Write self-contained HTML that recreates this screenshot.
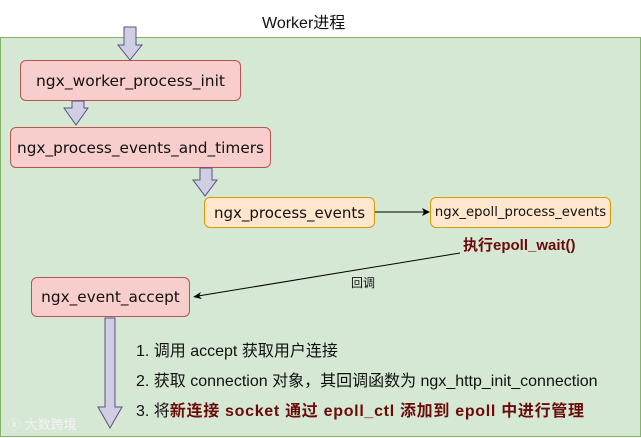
<!DOCTYPE html>
<html><head><meta charset="utf-8"><style>
body{margin:0;width:641px;height:438px;background:#fff;overflow:hidden;position:relative;font-family:"Liberation Sans","Noto Sans CJK SC",sans-serif}
.g{position:absolute;left:0;top:37px;width:639px;height:398px;background:#d5e8d4;border:1px solid #82b366}
.b{position:absolute;box-sizing:border-box;display:flex;align-items:center;justify-content:center;border-radius:6px;font-family:"Comic Sans MS","DejaVu Sans","Liberation Sans",sans-serif;color:#111;white-space:nowrap}
.p{background:#f8cecc;border:1px solid #b85450}
.y{background:#ffe6cc;border:1px solid #d79b00}
.t{position:absolute;white-space:nowrap;font-size:16px;color:#111}
svg{position:absolute;left:0;top:0}
</style></head><body>
<div class="t" style="left:262px;top:9px;font-size:16px">Worker进程</div>
<div class="g"></div>
<div class="b p" style="left:20px;top:60px;width:221px;height:41px;font-size:15.5px">ngx_worker_process_init</div>
<div class="b p" style="left:10px;top:127px;width:261px;height:41px;font-size:15.3px">ngx_process_events_and_timers</div>
<div class="b y" style="left:204px;top:197px;width:171px;height:31px;font-size:15px">ngx_process_events</div>
<div class="b y" style="left:430px;top:197px;width:181px;height:31px;font-size:13.2px">ngx_epoll_process_events</div>
<div class="b p" style="left:31px;top:277px;width:159px;height:40px;font-size:15.3px">ngx_event_accept</div>
<svg width="641" height="438">
<g fill="#d0cee2" stroke="#56517e" stroke-width="1">
<polygon points="124,27 136,27 136,45 142,45 130,60 118,45 124,45"/>
<polygon points="72,101 84,101 84,108 88,108 76,125 64,108 72,108"/>
<polygon points="200,168 212,168 212,180 217,180 205,196 193,180 200,180"/>
<polygon points="105,318 115,318 115,407 122,407 110,428 98,407 105,407"/>
</g>
<line x1="375" y1="212" x2="424" y2="212" stroke="#000" stroke-width="1"/>
<polygon points="430,212 422,208 424,212 422,216" fill="#000"/>
<line x1="460" y1="253" x2="198" y2="296" stroke="#000" stroke-width="1"/>
<polygon points="193,297 201,292 199,296 202,299" fill="#000"/>
</svg>
<div class="t" style="left:463px;top:234px;font-weight:bold;color:#6b0a0a;font-size:15px">执行epoll_wait()</div>
<div class="t" style="left:351px;top:274px;font-size:12px">回调</div>
<div class="t" style="left:136px;top:337px">1. 调用 accept 获取用户连接</div>
<div class="t" style="left:136px;top:367px">2. 获取 connection 对象，其回调函数为 ngx_http_init_connection</div>
<div class="t" style="left:136px;top:397px">3. 将<b style="color:#6b0a0a;letter-spacing:0.7px">新连接 socket 通过 epoll_ctl 添加到 epoll 中进行管理</b></div>
<div class="t" style="left:8px;top:414px;font-size:13px;color:#f4f4f4">ⓚ 大数跨境</div>
</body></html>
